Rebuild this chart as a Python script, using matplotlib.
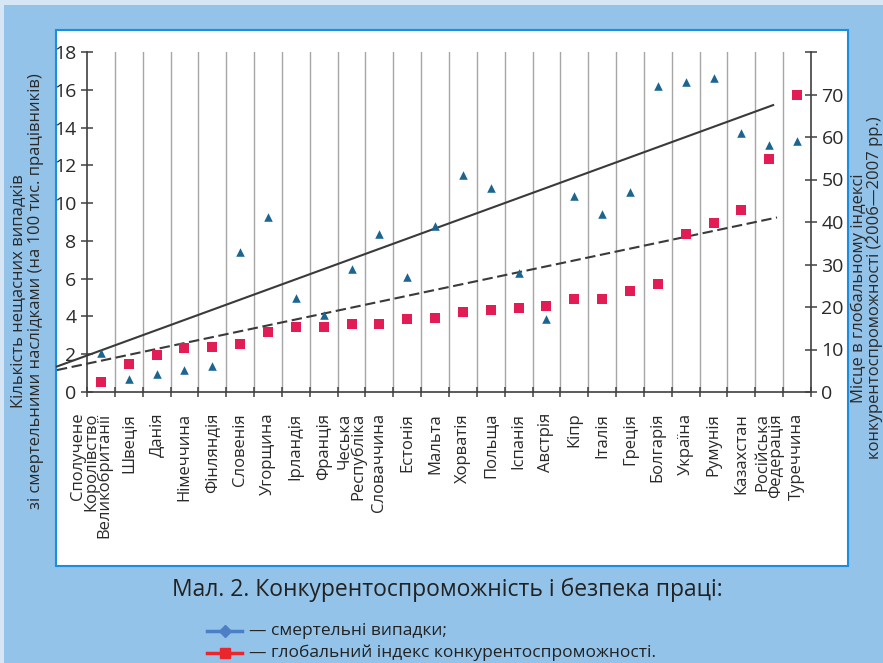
import matplotlib
matplotlib.use("Agg")
import matplotlib.pyplot as plt
from matplotlib.patches import Rectangle
import numpy as np

plt.rcParams['font.family'] = ['Open Sans', 'DejaVu Sans']

countries = ["Сполучене\nКоролівство\nВеликобританії", "Швеція", "Данія", "Німеччина",
             "Фінляндія", "Словенія", "Угорщина", "Ірландія", "Франція",
             "Чеська\nРеспубліка", "Словаччина", "Естонія", "Мальта", "Хорватія",
             "Польща", "Іспанія", "Австрія", "Кіпр", "Італія", "Греція", "Болгарія",
             "Україна", "Румунія", "Казахстан", "Російська\nФедерація", "Туреччина"]

fatal = [2.08, 0.70, 0.93, 1.15, 1.36, 7.42, 9.24, 4.97, 4.07, 6.53, 8.34, 6.08, 8.78,
         11.48, 10.81, 6.31, 3.85, 10.37, 9.45, 10.58, 16.19, 16.42, 16.65, 13.72, 13.07, 13.28]

gci_rank = [2.35, 6.5, 8.6, 10.3, 10.5, 11.4, 14.1, 15.4, 15.4, 16.1, 16.1, 17.2, 17.5,
            18.9, 19.4, 19.75, 20.2, 21.9, 21.9, 23.7, 25.5, 37.1, 39.7, 42.9, 54.9, 70.0]

# trend lines (start/end in category units, values on left axis)
trend_solid_x = [-1.58, 24.14]
trend_solid_y = [1.35, 15.19]
trend_dash_x = [-1.58, 24.28]
trend_dash_y = [1.16, 9.24]

left_ticks = list(range(0, 19, 2))
right_ticks = list(range(0, 81, 10))

W, H = 883, 663
fig = plt.figure(figsize=(W / 100, H / 100), dpi=100)
fig.patch.set_facecolor('#93c3e9')

def fx(px):
    return px / W

def fy(py):
    return 1 - py / H

# light strips
fig.patches.append(Rectangle((0, fy(5)), 1, 5 / H, transform=fig.transFigure,
                             facecolor='#d6e6f5', edgecolor='none', zorder=-3))
fig.patches.append(Rectangle((0, 0), 4 / W, 1, transform=fig.transFigure,
                             facecolor='#d6e6f5', edgecolor='none', zorder=-3))
# white panel
fig.patches.append(Rectangle((fx(56), fy(566)), (848 - 56) / W, (566 - 30) / H,
                             transform=fig.transFigure, facecolor='white',
                             edgecolor='#1b8fdf', linewidth=1.5, zorder=-2))

ax = fig.add_axes([fx(87), fy(392), (811 - 87) / W, (392 - 52) / H])
ax.set_facecolor('none')
ax2 = ax.twinx()

n = len(countries)
x = np.arange(n)

# vertical grid at category boundaries
for b in np.arange(0.5, n - 0.5, 1.0):
    ax.axvline(b, color='#a6a6a6', linewidth=1.0, zorder=1)

ax.plot(trend_solid_x, trend_solid_y, color='#3a3a3a', linewidth=1.5, clip_on=False, zorder=3)
ax.plot(trend_dash_x, trend_dash_y, color='#3a3a3a', linewidth=1.5, dashes=(5, 2.2),
        clip_on=False, zorder=3)

ax.scatter(x, fatal, marker='^', s=38, color='#1b6590', zorder=4, linewidths=0)
ax2.scatter(x, gci_rank, marker='s', s=55, color='#e21c55', zorder=4, linewidths=0)

ax.set_xlim(-0.5, n - 0.5)
ax.set_ylim(0, 18)
ax2.set_ylim(0, 80)

ax.set_yticks(left_ticks)
ax2.set_yticks(right_ticks)
ax2.set_yticklabels([str(t) if t < 80 else '' for t in right_ticks])

ax.set_xticks(x)
ax.set_xticklabels([''] + countries[1:], rotation=90, fontsize=12, linespacing=0.78,
                   color='#2a2a2a', va='top', ha='center', multialignment='right')
# first (three-line) label sits slightly left of its column, as in the original
ax.annotate(countries[0], xy=(x[0], 0), xycoords=('data', 'axes fraction'),
            xytext=(-7, -15), textcoords='offset points', rotation=90, fontsize=12,
            linespacing=0.78, color='#2a2a2a', va='top', ha='center', multialignment='right',
            annotation_clip=False)
ax.set_xticks(np.arange(-0.5, n, 1.0), minor=True)
ax.tick_params(axis='x', which='major', length=0, pad=15)
ax.tick_params(axis='x', which='minor', direction='inout', length=7, width=1.1, color='#404040')
ax.tick_params(axis='y', direction='inout', length=9, width=1.1, color='#404040',
               labelsize=14, labelcolor='#2a2a2a', pad=3)
ax2.tick_params(axis='y', direction='inout', length=9, width=1.1, color='#404040',
                labelsize=14, labelcolor='#2a2a2a', pad=3)

for a in (ax, ax2):
    a.spines['top'].set_visible(False)
    for s in ('left', 'right', 'bottom'):
        a.spines[s].set_color('#404040')
        a.spines[s].set_linewidth(1.2)
ax2.spines['left'].set_visible(False)
ax.spines['right'].set_visible(False)
ax2.spines['bottom'].set_visible(False)

# axis titles
fig.text(fx(27), fy(291), "Кількість нещасних випадків\nзі смертельними наслідками (на 100 тис. працівників)",
         rotation=90, ha='center', va='center', fontsize=12, color='#2a2a2a', linespacing=1.15)
fig.text(fx(867), fy(288), "Місце в глобальному індексі\nконкурентоспроможності (2006—2007 рр.)",
         rotation=90, ha='center', va='center', fontsize=12, color='#2a2a2a', linespacing=1.0)

# caption and key
ov = fig.add_axes([0, 0, 1, 1], zorder=-1)
ov.set_xlim(0, W)
ov.set_ylim(H, 0)
ov.axis('off')
ov.patch.set_alpha(0)
ov.text(447, 590, "Мал. 2. Конкурентоспроможність і безпека праці:", ha='center', va='center',
        fontsize=16.5, color='#222222')
ov.plot([207, 242], [631, 631], color='#4d7fc6', linewidth=2.5)
ov.plot([225], [631], marker='D', markersize=6, color='#4d7fc6')
ov.text(249, 631, "— смертельні випадки;", ha='left', va='center', fontsize=12.5, color='#222222')
ov.plot([207, 242], [653, 653], color='#e8262b', linewidth=2.5)
ov.plot([225], [653], marker='s', markersize=7, color='#e8262b')
ov.text(249, 653, "— глобальний індекс конкурентоспроможності.", ha='left', va='center',
        fontsize=12.5, color='#222222')

fig.savefig('out.png', dpi=100, facecolor=fig.get_facecolor())
